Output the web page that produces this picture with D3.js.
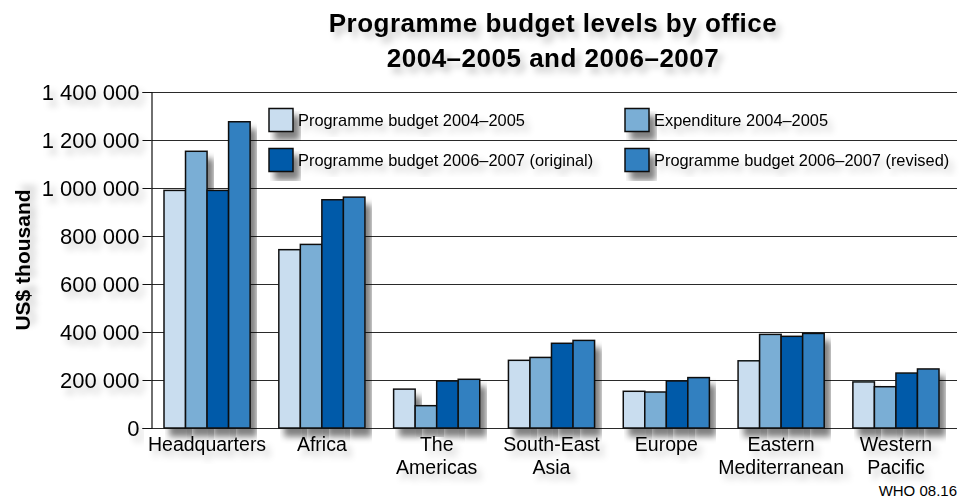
<!DOCTYPE html>
<html>
<head>
<meta charset="utf-8">
<script src="https://cdn.jsdelivr.net/npm/d3@7"></script>
<style>
  html, body { margin: 0; padding: 0; background: #fff; }
  svg { display: block; font-family: "Liberation Sans", Arial, Helvetica, sans-serif; }
</style>
</head>
<body>
<svg id="chart" width="959" height="499"></svg>
<script>
// ---- data ----
const categories = ["Headquarters", "Africa", "The\nAmericas", "South-East\nAsia", "Europe", "Eastern\nMediterranean", "Western\nPacific"];
const seriesNames = ["Programme budget 2004–2005", "Expenditure 2004–2005", "Programme budget 2006–2007 (original)", "Programme budget 2006–2007 (revised)"];
const budget0405 = [990000, 743000, 162000, 282000, 153000, 280000, 192000];
const expenditure0405 = [1153000, 765000, 93000, 294000, 150000, 390000, 172000];
const budget0607orig = [990000, 951000, 196000, 353000, 196000, 382000, 229000];
const budget0607rev = [1276000, 962000, 203000, 365000, 210000, 394000, 246000];
const yTicks = [0, 200000, 400000, 600000, 800000, 1000000, 1200000, 1400000];
const colors = ["#c9ddef", "#7aaed5", "#005aa9", "#3380c0"];
const titleLines = ["Programme budget levels by office", "2004–2005 and 2006–2007"];
const yLabel = "US$ thousand";
const sourceNote = "WHO 08.16";

const series = [budget0405, expenditure0405, budget0607orig, budget0607rev];

// ---- layout ----
const svg = d3.select("#chart");
const axisX = 151.5, plotRight = 957, plotTop = 92, plotBottom = 428;

const defs = svg.append("defs");
function shadow(id, dx, dy, sd, op) {
  const f = defs.append("filter").attr("id", id)
    .attr("x", "-20%").attr("y", "-20%").attr("width", "150%").attr("height", "160%");
  f.append("feGaussianBlur").attr("in", "SourceAlpha").attr("stdDeviation", sd).attr("result", "b");
  f.append("feOffset").attr("in", "b").attr("dx", dx).attr("dy", dy).attr("result", "o");
  f.append("feFlood").attr("flood-color", "#000").attr("flood-opacity", op).attr("result", "c");
  f.append("feComposite").attr("in", "c").attr("in2", "o").attr("operator", "in").attr("result", "s");
  const m = f.append("feMerge");
  m.append("feMergeNode").attr("in", "s");
  m.append("feMergeNode").attr("in", "SourceGraphic");
}
shadow("barShadow", 6, 8, 3, 0.5);
shadow("textShadow", 5, 6, 3, 0.22);

const y = d3.scaleLinear().domain([0, 1400000]).range([plotBottom, plotTop]);
const x = d3.scaleBand().domain(categories).range([164, 939]).paddingInner(0.25).paddingOuter(0);
const xs = d3.scaleBand().domain(d3.range(series.length)).range([0, x.bandwidth()]).padding(0);

const locale = d3.formatLocale({ decimal: ".", thousands: " ", grouping: [3], currency: ["", ""] });
const fmt = locale.format(",d");

// gridlines
svg.append("g").selectAll("line").data(yTicks).join("line")
  .attr("x1", axisX).attr("x2", plotRight)
  .attr("y1", d => Math.round(y(d)) + 0.5).attr("y2", d => Math.round(y(d)) + 0.5)
  .attr("stroke", "#2a2a2a").attr("stroke-width", 1);

// y axis
const yAxis = svg.append("g").attr("transform", `translate(${axisX},0)`)
  .call(d3.axisLeft(y).tickValues(yTicks).tickFormat(fmt).tickSize(9).tickPadding(3));
yAxis.attr("font-family", null);
yAxis.select(".domain").attr("stroke", "#111").attr("stroke-width", 1.2);
yAxis.selectAll(".tick line").attr("stroke", "#111");
yAxis.selectAll(".tick text").attr("font-size", 22).attr("fill", "#000")
  .attr("filter", "url(#textShadow)");

// bars
const groups = svg.append("g").selectAll("g").data(categories).join("g")
  .attr("transform", d => `translate(${x(d)},0)`);
groups.each(function(cat, ci) {
  d3.select(this).selectAll("rect").data(series.map((s, si) => ({ si, v: s[ci] }))).join("rect")
    .attr("x", d => xs(d.si))
    .attr("y", d => y(d.v))
    .attr("width", xs.bandwidth())
    .attr("height", d => y(0) - y(d.v))
    .attr("fill", d => colors[d.si])
    .attr("stroke", "#111").attr("stroke-width", 1.5)
    .attr("filter", "url(#barShadow)");
});

// x labels (one text element per line)
const xlData = [];
categories.forEach(c => c.split("\n").forEach((t, i) => xlData.push({ c, t, i })));
svg.append("g").selectAll("text").data(xlData).join("text")
  .attr("x", d => x(d.c) + x.bandwidth() / 2)
  .attr("y", d => 451 + d.i * 23)
  .attr("text-anchor", "middle").attr("font-size", 19.5).attr("fill", "#000")
  .attr("filter", "url(#textShadow)")
  .text(d => d.t);

// legend
const legPos = [[269, 108.5], [625, 108.5], [269, 148.5], [625, 148.5]];
const leg = svg.append("g").selectAll("g").data(seriesNames).join("g")
  .attr("transform", (d, i) => `translate(${legPos[i][0]},${legPos[i][1]})`);
leg.append("rect").attr("width", 24).attr("height", 23)
  .attr("fill", (d, i) => colors[i]).attr("stroke", "#111").attr("stroke-width", 1.5)
  .attr("filter", "url(#barShadow)");
leg.append("text").attr("x", 29).attr("y", 17.5).attr("font-size", 16.4).attr("fill", "#000")
  .attr("filter", "url(#textShadow)").text(d => d);

// title
svg.append("g").selectAll("text").data(titleLines).join("text")
  .attr("x", 553).attr("y", (d, i) => 32 + i * 35)
  .attr("text-anchor", "middle").attr("font-size", 26).attr("font-weight", "bold")
  .attr("letter-spacing", 0.5).attr("fill", "#000")
  .attr("filter", "url(#textShadow)").text(d => d);

// y label
svg.append("text").attr("transform", "translate(30,260) rotate(-90)")
  .attr("text-anchor", "middle").attr("font-size", 21).attr("font-weight", "bold").attr("fill", "#000")
  .attr("filter", "url(#textShadow)").text(yLabel);

// source note
svg.append("text").attr("x", 957).attr("y", 496).attr("text-anchor", "end")
  .attr("font-size", 15).attr("fill", "#000").text(sourceNote);
</script>
</body>
</html>
